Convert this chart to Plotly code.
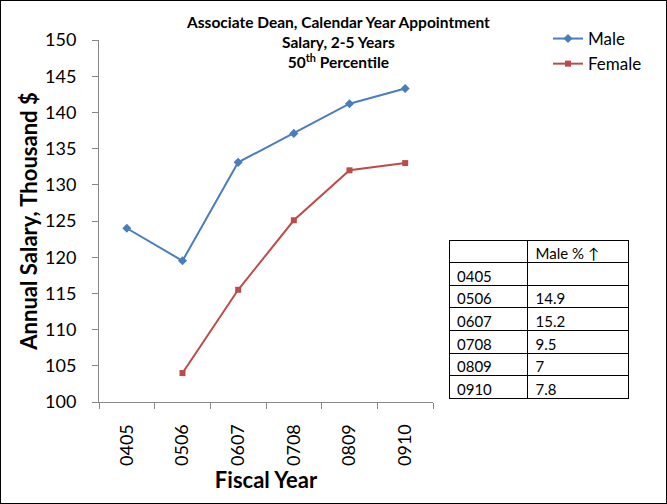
import plotly.graph_objects as go

years = ["0405", "0506", "0607", "0708", "0809", "0910"]
male = [124.0, 119.5, 133.1, 137.1, 141.2, 143.3]
female = [None, 104.0, 115.5, 125.1, 132.0, 133.0]
male_pct = ["", "14.9", "15.2", "9.5", "7", "7.8"]

W, H = 667, 504
FONT = "Lato, Calibri, Carlito, sans-serif"

fig = go.Figure()
fig.add_trace(go.Scatter(x=years, y=male, name="Male", mode="lines+markers",
                         line=dict(color="#4a7ebb", width=2),
                         marker=dict(symbol="diamond", size=7, color="#4a7ebb")))
fig.add_trace(go.Scatter(x=years, y=female, name="Female", mode="lines+markers",
                         line=dict(color="#be4b48", width=2),
                         marker=dict(symbol="square", size=6, color="#be4b48")))

fig.add_trace(go.Table(
    domain=dict(x=[449 / W, 629 / W], y=[1 - 399 / H, 1 - 240 / H]),
    columnwidth=[79, 101],
    header=dict(values=["", "Male % \u2191"], align="left", height=22.6,
                line=dict(color="black", width=1), fill=dict(color="white"),
                font=dict(family=FONT, size=15, color="black")),
    cells=dict(values=[years, male_pct], align="left", height=22.6,
               line=dict(color="black", width=1), fill=dict(color="white"),
               font=dict(family=FONT, size=15, color="black")),
))

fig.update_layout(
    width=W, height=H,
    margin=dict(l=0, r=0, t=0, b=0),
    paper_bgcolor="white", plot_bgcolor="white",
    font=dict(family=FONT, color="black"),
    showlegend=True,
    legend=dict(x=548 / W, y=1 - 21 / H, xanchor="left", yanchor="top",
                font=dict(size=17), bgcolor="rgba(0,0,0,0)", itemwidth=30),
    xaxis=dict(domain=[99 / W, 433 / W], type="category", range=[-0.5, 5.5],
               tickangle=-90,
               tickson="boundaries", ticks="outside", ticklen=6, tickcolor="#888",
               showline=True, linecolor="#888", showgrid=False,
               tickfont=dict(size=18), automargin=False, ticklabelstandoff=14,
               title=dict(text="<b>Fiscal Year</b>", font=dict(size=22), standoff=7)),
    yaxis=dict(domain=[1 - 402 / H, 1 - 40 / H], range=[100, 150], dtick=5,
               ticks="outside", ticklen=6, tickcolor="#888",
               showline=True, linecolor="#888", showgrid=False,
               tickfont=dict(size=18), automargin=False, ticklabelstandoff=12,
               title=dict(text="<b>Annual Salary, Thousand $</b>", font=dict(size=22),
                          standoff=1)),
    shapes=[dict(type="rect", xref="paper", yref="paper", x0=0, y0=0, x1=1, y1=1,
                 line=dict(color="black", width=2))],
    annotations=[dict(text="<b>Associate Dean, Calendar Year Appointment<br>"
                           "Salary, 2-5 Years<br>50<sup>th</sup> Percentile</b>",
                      xref="paper", yref="paper", x=338 / W, y=1 - 11 / H,
                      xanchor="center", yanchor="top", showarrow=False,
                      font=dict(size=15.5), align="center")],
)

fig.write_html("out.html", config={"displayModeBar": False},
               post_script="document.body.style.margin='0';")
